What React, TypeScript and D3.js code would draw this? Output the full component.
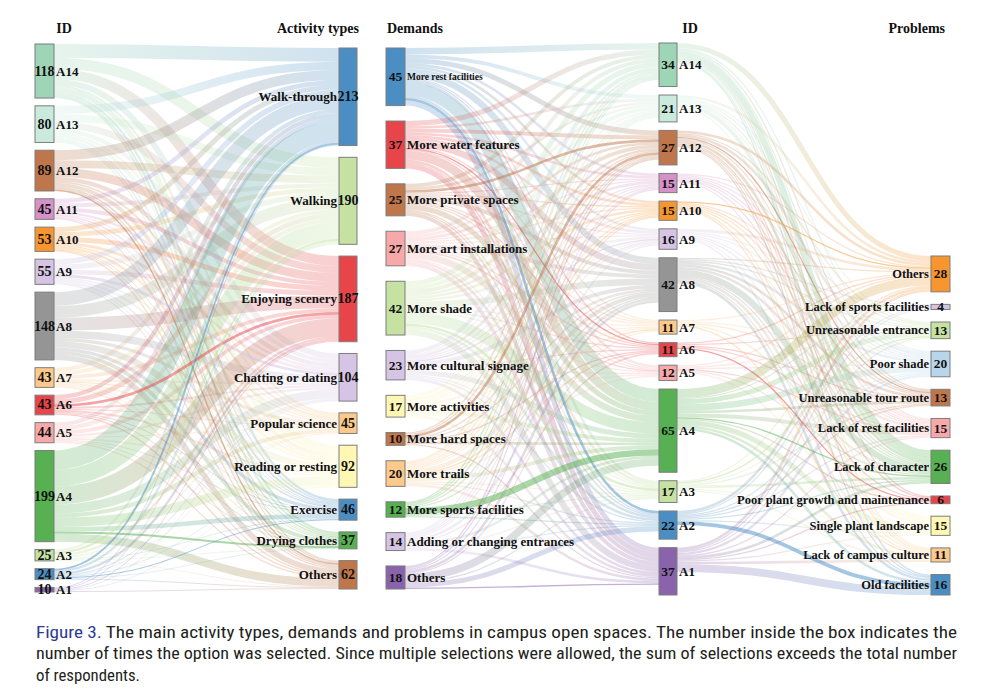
import React from 'react';
import * as d3 from 'd3';

// ---------- palette ----------
const MINT = '#9dd5b6', MINT_L = '#c9eadc', BROWN = '#c0764b', PINKP = '#d592c9', ORANGE = '#f7962f',
  LAV = '#d5c4e3', GRAY = '#959595', ORANGE_L = '#fdca8c', RED = '#e8454a', PINK_L = '#f7a9aa',
  GREEN = '#57b051', GREEN_L = '#c5e2a2', BLUE = '#4a8ec4', PURPLE = '#8a63ad', YELLOW_L = '#fff7b3', BLUE_L = '#b7d6ea';

// ---------- data ----------
const leftIds = ['A14', 'A13', 'A12', 'A11', 'A10', 'A9', 'A8', 'A7', 'A6', 'A5', 'A4', 'A3', 'A2', 'A1'];
const leftIdValues = [118, 80, 89, 45, 53, 55, 148, 43, 43, 44, 199, 25, 24, 10];
const activityTypes = ['Walk-through', 'Walking', 'Enjoying scenery', 'Chatting or dating', 'Popular science', 'Reading or resting', 'Exercise', 'Drying clothes', 'Others'];
const activityValues = [213, 190, 187, 104, 45, 92, 46, 37, 62];
// rows: IDs (A14..A1), cols: activity types
const idActivityFlows = [
  [30, 24, 22, 13, 5, 11, 5, 5, 3],
  [18, 16, 15, 9, 4, 8, 3, 4, 3],
  [22, 17, 19, 9, 4, 8, 4, 3, 3],
  [10, 9, 9, 5, 2, 4, 2, 1, 3],
  [11, 10, 11, 6, 3, 5, 2, 2, 3],
  [12, 11, 10, 6, 3, 5, 3, 2, 3],
  [30, 26, 28, 16, 7, 14, 7, 8, 12],
  [9, 8, 8, 5, 2, 4, 2, 2, 3],
  [9, 11, 6, 4, 2, 4, 2, 2, 3],
  [9, 9, 8, 5, 2, 4, 2, 2, 3],
  [42, 37, 39, 20, 9, 20, 10, 4, 18],
  [5, 5, 5, 3, 1, 2, 2, 1, 1],
  [4, 5, 5, 2, 1, 2, 2, 1, 2],
  [2, 2, 2, 1, 0, 1, 0, 0, 2],
];

const demands = ['More rest facilities', 'More water features', 'More private spaces', 'More art installations', 'More shade', 'More cultural signage', 'More activities', 'More hard spaces', 'More trails', 'More sports facilities', 'Adding or changing entrances', 'Others'];
const demandValues = [45, 37, 25, 27, 42, 23, 17, 10, 20, 12, 14, 18];
const midIds = ['A14', 'A13', 'A12', 'A11', 'A10', 'A9', 'A8', 'A7', 'A6', 'A5', 'A4', 'A3', 'A2', 'A1'];
const midIdValues = [34, 21, 27, 15, 15, 16, 42, 11, 11, 12, 65, 17, 22, 37];
// rows: demands, cols: IDs (A14..A1)
const demandIdFlows = [
  [5, 3, 4, 2, 2, 2, 5, 1, 1, 2, 10, 2, 2, 4],
  [4, 2, 3, 2, 2, 2, 5, 1, 1, 1, 7, 2, 1, 4],
  [3, 2, 2, 1, 1, 1, 3, 1, 1, 1, 4, 1, 1, 3],
  [3, 2, 2, 1, 1, 1, 3, 1, 1, 1, 5, 1, 2, 3],
  [4, 3, 3, 2, 2, 2, 5, 1, 1, 1, 9, 2, 2, 5],
  [3, 1, 2, 1, 1, 1, 3, 1, 1, 1, 4, 1, 1, 2],
  [2, 1, 1, 1, 1, 1, 2, 1, 0, 1, 3, 1, 0, 2],
  [1, 1, 2, 0, 0, 1, 1, 0, 1, 0, 2, 0, 0, 1],
  [2, 1, 1, 1, 1, 1, 3, 1, 1, 1, 3, 1, 1, 2],
  [1, 1, 1, 0, 1, 0, 1, 0, 0, 0, 5, 1, 1, 0],
  [1, 1, 1, 1, 1, 0, 2, 0, 1, 0, 2, 1, 1, 2],
  [0, 0, 1, 1, 0, 1, 2, 1, 0, 0, 6, 1, 4, 1],
];

const problems = ['Others', 'Lack of sports facilities', 'Unreasonable entrance', 'Poor shade', 'Unreasonable tour route', 'Lack of rest facilities', 'Lack of character', 'Poor plant growth and maintenance', 'Single plant landscape', 'Lack of campus culture', 'Old facilities'];
const problemValues = [28, 4, 13, 20, 13, 15, 26, 6, 15, 11, 16];
// rows: IDs (A14..A1), cols: problems
const idProblemFlows = [
  [4, 0, 0, 1, 1, 1, 5, 1, 1, 1, 1],
  [2, 0, 1, 1, 1, 1, 3, 0, 0, 1, 0],
  [2, 0, 1, 2, 1, 1, 2, 1, 1, 1, 1],
  [1, 0, 1, 1, 1, 1, 1, 0, 1, 0, 0],
  [1, 0, 0, 1, 1, 1, 1, 0, 1, 1, 0],
  [2, 0, 1, 1, 0, 1, 1, 0, 1, 0, 1],
  [1, 1, 1, 2, 2, 2, 5, 1, 2, 1, 2],
  [1, 0, 0, 1, 1, 0, 1, 0, 0, 1, 0],
  [1, 0, 1, 0, 1, 1, 0, 1, 0, 0, 0],
  [1, 0, 1, 1, 0, 1, 1, 0, 1, 0, 0],
  [7, 1, 4, 5, 2, 3, 1, 1, 4, 2, 2],
  [1, 0, 1, 1, 1, 0, 2, 0, 1, 1, 0],
  [2, 1, 0, 1, 1, 1, 1, 0, 1, 0, 3],
  [2, 1, 1, 2, 0, 1, 2, 1, 1, 2, 6],
];

// ---------- styles ----------
const idColors = [MINT, MINT_L, BROWN, PINKP, ORANGE, LAV, GRAY, ORANGE_L, RED, PINK_L, GREEN, GREEN_L, BLUE, PURPLE];
const activityColors = [BLUE, GREEN_L, RED, LAV, ORANGE_L, YELLOW_L, BLUE, GREEN, BROWN];
const demandColors = [BLUE, RED, BROWN, PINK_L, GREEN_L, LAV, YELLOW_L, BROWN, ORANGE_L, GREEN, LAV, PURPLE];
const problemColors = [ORANGE, LAV, GREEN_L, BLUE_L, BROWN, PINK_L, GREEN, RED, YELLOW_L, ORANGE_L, BLUE];

type NodeL = { x0: number; x1: number; y0: number; y1: number; value: number; color: string; name: string };
type LinkL = { id: string; sx: number; sy: number; tx: number; ty: number; w: number; sc: string; tc: string };

function placeColumn(names: string[], values: number[], colors: string[], x0: number, x1: number, top: number, bottom: number, k: number): NodeL[] {
  const h = d3.scaleLinear().domain([0, 1]).range([0, k]);
  const total = d3.sum(values);
  const gap = (bottom - top - h(total)) / (values.length - 1);
  let y = top;
  return values.map((v, i) => {
    const y0 = y;
    const y1 = y0 + h(v);
    y = y1 + gap;
    return { x0, x1, y0, y1, value: v, color: colors[i], name: names[i] };
  });
}

function buildLinks(prefix: string, src: NodeL[], tgt: NodeL[], m: number[][], k: number): LinkL[] {
  const h = d3.scaleLinear().domain([0, 1]).range([0, k]);
  const sy: number[][] = m.map(r => r.map(() => 0));
  const ty: number[][] = m.map(r => r.map(() => 0));
  src.forEach((s, i) => {
    let off = s.y0;
    tgt.forEach((_, j) => {
      const w = h(m[i][j]);
      sy[i][j] = off + w / 2;
      off += w;
    });
  });
  tgt.forEach((t, j) => {
    let off = t.y0;
    src.forEach((_, i) => {
      const w = h(m[i][j]);
      ty[i][j] = off + w / 2;
      off += w;
    });
  });
  const out: LinkL[] = [];
  src.forEach((s, i) => tgt.forEach((t, j) => {
    if (m[i][j] > 0) out.push({ id: `${prefix}-${i}-${j}`, sx: s.x1, sy: sy[i][j], tx: t.x0, ty: ty[i][j], w: h(m[i][j]), sc: s.color, tc: t.color });
  }));
  return out;
}

const linkGen = d3.linkHorizontal<any, [number, number]>().source((d: any) => d.s).target((d: any) => d.t);

const SERIF = '"Times New Roman", "Liberation Serif", serif';

function Links({ links }: { links: LinkL[] }) {
  const ordered = [...links.filter(l => l.sc !== l.tc), ...links.filter(l => l.sc === l.tc)];
  return (
    <g>
      <defs>
        {links.map(l => (
          <linearGradient key={l.id} id={l.id} gradientUnits="userSpaceOnUse" x1={l.sx} x2={l.tx} y1={0} y2={0}>
            <stop offset="0%" stopColor={l.sc} />
            <stop offset="100%" stopColor={l.tc} />
          </linearGradient>
        ))}
      </defs>
      {ordered.map(l => (
        <path key={'p' + l.id} d={linkGen({ s: [l.sx, l.sy], t: [l.tx, l.ty] }) || ''} fill="none"
          stroke={`url(#${l.id})`} strokeWidth={Math.max(l.w, 0.6)} strokeOpacity={l.sc === l.tc ? 0.5 : 0.26} />
      ))}
    </g>
  );
}

function Nodes({ nodes, side, numSize, labelSize, labelSizes }: { nodes: NodeL[]; side: 'left' | 'right'; numSize: number; labelSize: number; labelSizes?: Record<string, number> }) {
  return (
    <g>
      {nodes.map((n, i) => {
        const cy = (n.y0 + n.y1) / 2;
        const ls = (labelSizes && labelSizes[n.name]) || labelSize;
        return (
          <g key={i}>
            <rect x={n.x0} y={n.y0} width={n.x1 - n.x0} height={Math.max(n.y1 - n.y0, 1)} fill={n.color} stroke="#7d7d7d" strokeWidth={1} />
            <text x={(n.x0 + n.x1) / 2} y={cy} textAnchor="middle" dominantBaseline="central" fontFamily={SERIF} fontWeight="bold" fontSize={numSize} fill="#111">{n.value}</text>
            <text x={side === 'right' ? n.x1 + 2 : n.x0 - 2} y={cy} textAnchor={side === 'right' ? 'start' : 'end'} dominantBaseline="central" fontFamily={SERIF} fontWeight="bold" fontSize={ls} fill="#111">{n.name}</text>
          </g>
        );
      })}
    </g>
  );
}

export default function App() {
  const k1 = 0.458;
  const k2 = 1.28;
  const idsL = placeColumn(leftIds, leftIdValues, idColors, 35, 54, 44, 592, k1);
  const acts = placeColumn(activityTypes, activityValues, activityColors, 339, 357, 48, 589, k1);
  const dems = placeColumn(demands, demandValues, demandColors, 386, 405, 48, 589, k2);
  const idsM = placeColumn(midIds, midIdValues, idColors, 659, 677, 43, 595, k2);
  const probs = placeColumn(problems, problemValues, problemColors, 931, 950, 256, 595, k2);

  const l1 = buildLinks('la', idsL, acts, idActivityFlows, k1);
  const l2 = buildLinks('lb', dems, idsM, demandIdFlows, k2);
  const l3 = buildLinks('lc', idsM, probs, idProblemFlows, k2);

  const capFont = '"Liberation Sans Narrow", "Roboto Condensed", "DejaVu Sans Condensed", Roboto, sans-serif';

  return (
    <svg width={992} height={694} style={{ position: 'absolute', left: 0, top: 0, background: '#fff' }}>
      <rect x={0} y={0} width={992} height={694} fill="#fff" />
      <Links links={l1} />
      <Links links={l2} />
      <Links links={l3} />
      <Nodes nodes={idsL} side="right" numSize={14} labelSize={13} />
      <Nodes nodes={acts} side="left" numSize={14} labelSize={13} />
      <Nodes nodes={dems} side="right" numSize={13.5} labelSize={13} labelSizes={{ 'More rest facilities': 9.5 }} />
      <Nodes nodes={idsM} side="right" numSize={13.5} labelSize={13} />
      <Nodes nodes={probs} side="left" numSize={13.5} labelSize={12.5} />

      <g fontFamily={SERIF} fontWeight="bold" fontSize={14} fill="#111">
        <text x={64} y={33} textAnchor="middle">ID</text>
        <text x={359} y={33} textAnchor="end">Activity types</text>
        <text x={387} y={33} textAnchor="start">Demands</text>
        <text x={690} y={33} textAnchor="middle">ID</text>
        <text x={945} y={33} textAnchor="end">Problems</text>
      </g>

      <g fontFamily={capFont} fontSize={16.5} fill="#231f20">
        <text x={36} y={638} textLength={921} lengthAdjust="spacingAndGlyphs">
          <tspan fill="#2b3b8f">Figure 3.</tspan>
          <tspan> The main activity types, demands and problems in campus open spaces. The number inside the box indicates the</tspan>
        </text>
        <text x={36} y={659} textLength={921} lengthAdjust="spacingAndGlyphs">number of times the option was selected. Since multiple selections were allowed, the sum of selections exceeds the total number</text>
        <text x={36} y={681} textLength={104} lengthAdjust="spacingAndGlyphs">of respondents.</text>
      </g>
    </svg>
  );
}
